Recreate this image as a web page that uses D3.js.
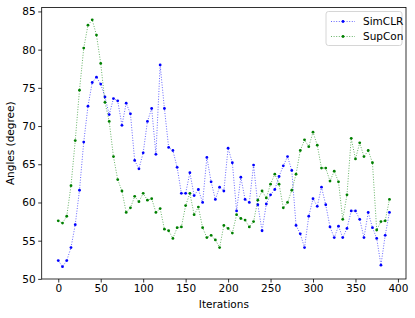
<!DOCTYPE html>
<html>
<head>
<meta charset="utf-8">
<script src="https://cdn.jsdelivr.net/npm/d3@7"></script>
<style>
  body { margin: 0; background: #fff; }
  #chart text { font-family: "DejaVu Sans", sans-serif; }
</style>
</head>
<body>
<div id="chart"></div>
<script>
// ===============================
// Data
// ===============================
const iterations = d3.range(0, 391, 5);

const simclr = [
    52.4, 51.6, 52.4, 54.1, 57.1, 61.6, 67.9, 72.6, 75.7, 76.4,
    75.5, 73.8, 71.5, 73.6, 73.3, 70.1, 73.0, 71.6, 65.5, 64.4,
    66.5, 70.6, 72.3, 66.3, 78.0, 72.3, 67.2, 66.8, 64.6, 61.2,
    61.2, 63.9, 60.9, 61.7, 60.0, 65.9, 62.7, 60.4, 62.0, 61.5,
    67.1, 65.2, 58.9, 63.3, 60.4, 60.0, 64.9, 59.7, 56.3, 59.8,
    61.0, 61.7, 63.4, 64.8, 66.0, 64.2, 57.0, 55.9, 54.1, 58.2,
    60.5, 59.5, 62.0, 59.7, 56.8, 55.4, 56.9, 55.4, 56.6, 58.9,
    58.9, 57.8, 55.4, 58.7, 56.7, 55.3, 51.8, 55.7, 58.7
];

const supcon = [
    57.6, 57.3, 58.2, 62.2, 68.1, 74.7, 80.2, 83.2, 83.9, 81.9,
    78.2, 73.1, 70.6, 66.0, 63.0, 61.5, 58.7, 59.3, 60.8, 60.1,
    61.2, 60.3, 60.5, 58.7, 59.2, 56.5, 56.3, 55.3, 56.7, 56.8,
    59.6, 61.2, 58.4, 59.4, 56.7, 55.4, 55.7, 55.1, 54.1, 57.0,
    56.6, 56.0, 58.4, 57.9, 57.7, 56.8, 57.5, 60.3, 61.5, 60.6,
    62.4, 63.7, 62.4, 59.3, 60.0, 61.6, 63.7, 66.8, 68.2, 67.3,
    69.2, 67.5, 64.5, 64.5, 62.8, 64.1, 62.7, 57.8, 61.0, 68.4,
    65.7, 67.8, 66.0, 66.8, 65.2, 56.4, 57.5, 57.6, 60.4
];

const xTicks = [0, 50, 100, 150, 200, 250, 300, 350, 400];
const yTicks = [50, 55, 60, 65, 70, 75, 80, 85];

const seriesNames = ["SimCLR", "SupCon"];
const seriesColors = ["#0000ff", "#008000"];

// ===============================
// Layout
// ===============================
const W = 415, H = 318;
const margin = { top: 7.5, right: 9, bottom: 39, left: 41.7 };
const width = W - margin.left - margin.right;
const height = H - margin.top - margin.bottom;
const fontSize = 10.5;

const series = seriesNames.map((name, i) => ({
    name: name,
    color: seriesColors[i],
    values: iterations.map((x, j) => ({ x: x, y: [simclr, supcon][i][j] }))
}));

// matplotlib style 5% padding around the data
function padded(lo, hi) {
    const pad = (hi - lo) * 0.05;
    return [lo - pad, hi + pad];
}

const allY = simclr.concat(supcon);
const x = d3.scaleLinear()
    .domain(padded(d3.min(iterations), d3.max(iterations)))
    .range([0, width]);
const y = d3.scaleLinear()
    .domain(padded(d3.min(allY), d3.max(allY)))
    .range([height, 0]);

const svg = d3.select("#chart")
    .append("svg")
    .attr("width", W)
    .attr("height", H)
    .append("g")
    .attr("transform", `translate(${margin.left},${margin.top})`);

// series
const line = d3.line().x(d => x(d.x)).y(d => y(d.y));

series.forEach(s => {
    svg.append("path")
        .datum(s.values)
        .attr("fill", "none")
        .attr("stroke", s.color)
        .attr("stroke-width", 0.8)
        .attr("stroke-opacity", 0.75)
        .attr("stroke-dasharray", "1,1.6")
        .attr("d", line);

    svg.selectAll(null)
        .data(s.values)
        .enter()
        .append("circle")
        .attr("cx", d => x(d.x))
        .attr("cy", d => y(d.y))
        .attr("r", 1.4)
        .attr("fill", s.color);
});

// axes
const xAxis = svg.append("g")
    .attr("transform", `translate(0,${height})`)
    .call(d3.axisBottom(x).tickValues(xTicks).tickSize(3.5).tickPadding(2.5));
const yAxis = svg.append("g")
    .call(d3.axisLeft(y).tickValues(yTicks).tickSize(3.5).tickPadding(2.5));

[xAxis, yAxis].forEach(g => {
    g.select(".domain").remove();
    g.selectAll(".tick line").attr("stroke", "#000").attr("stroke-width", 0.8);
    g.selectAll(".tick text")
        .attr("fill", "#000")
        .attr("font-size", fontSize)
        .attr("font-family", "DejaVu Sans");
});

// frame
svg.append("rect")
    .attr("x", 0)
    .attr("y", 0)
    .attr("width", width)
    .attr("height", height)
    .attr("fill", "none")
    .attr("stroke", "#000")
    .attr("stroke-width", 0.8);

// axis labels
svg.append("text")
    .attr("x", width / 2)
    .attr("y", height + 29)
    .attr("text-anchor", "middle")
    .attr("font-size", fontSize)
    .text("Iterations");

svg.append("text")
    .attr("transform", `translate(${-28},${height / 2}) rotate(-90)`)
    .attr("text-anchor", "middle")
    .attr("font-size", fontSize)
    .text("Angles (degree)");

// legend
const legendW = 76, legendH = 34;
const legend = svg.append("g")
    .attr("transform", `translate(${width - legendW - 4},${4})`);

legend.append("rect")
    .attr("width", legendW)
    .attr("height", legendH)
    .attr("rx", 2.5)
    .attr("fill", "#fff")
    .attr("fill-opacity", 0.8)
    .attr("stroke", "#ccc")
    .attr("stroke-width", 0.8);

series.forEach((s, i) => {
    const row = legend.append("g")
        .attr("transform", `translate(5,${10 + i * 15})`);
    row.append("line")
        .attr("x1", 0)
        .attr("x2", 24)
        .attr("stroke", s.color)
        .attr("stroke-width", 0.8)
        .attr("stroke-opacity", 0.75)
        .attr("stroke-dasharray", "1,1.6");
    row.append("circle")
        .attr("cx", 12)
        .attr("r", 1.4)
        .attr("fill", s.color);
    row.append("text")
        .attr("x", 32)
        .attr("dy", "0.35em")
        .attr("font-size", fontSize)
        .text(s.name);
});
</script>
</body>
</html>
